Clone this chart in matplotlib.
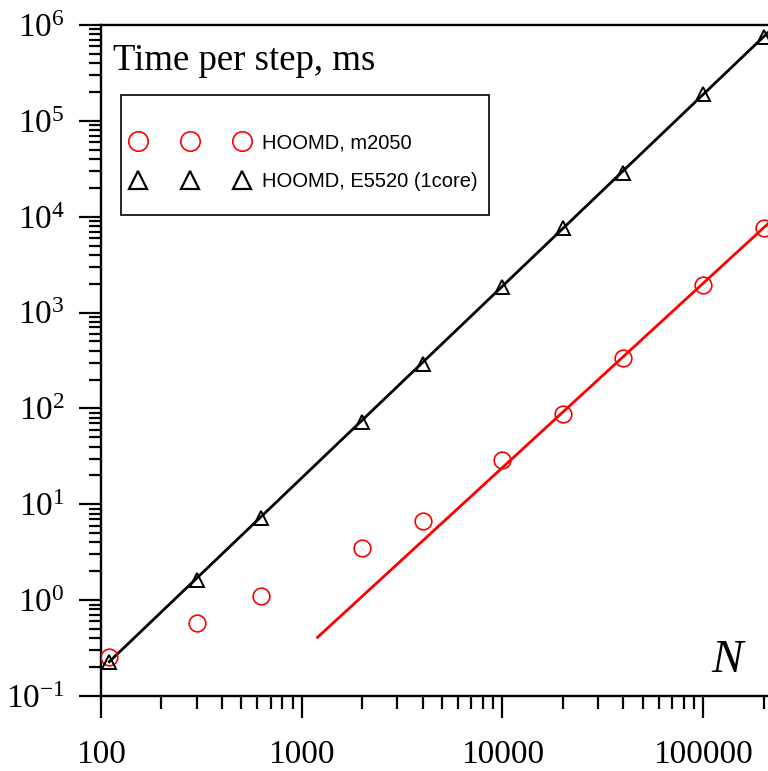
import matplotlib
matplotlib.use("Agg")
import matplotlib.pyplot as plt
import matplotlib.ticker as mticker
from matplotlib.lines import Line2D
from matplotlib.patches import Rectangle

plt.rcParams["font.family"] = ["Liberation Serif", "DejaVu Serif"]
plt.rcParams["mathtext.fontset"] = "custom"
plt.rcParams["mathtext.rm"] = "Liberation Serif"
plt.rcParams["mathtext.it"] = "Liberation Serif:italic"

# ── Data ────────────────────────────────────────────────────────────────────
N_POINTS = [110, 300, 630, 2000, 4000, 10000, 20000, 40000, 100000, 200000]
T_GPU = [0.257, 0.58, 1.11, 3.52, 6.72, 29.1, 87.9, 337, 1945, 7640]
T_CPU = [0.228, 1.63, 7.23, 72.4, 292, 1854, 7640, 28600, 191000, 750000]

# power-law fit lines
FIT_GPU_N = [1200, 210000]
FIT_GPU_T = [0.41, 8400]
FIT_CPU_N = [110, 210000]
FIT_CPU_T = [0.228, 830000]

LABELS = ["HOOMD, m2050", "HOOMD, E5520 (1core)"]
X_TICKS = [100, 1000, 10000, 100000]
X_TICKLABELS = ["100", "1000", "10000", "100000"]
Y_TICKS = [1e-1, 1e0, 1e1, 1e2, 1e3, 1e4, 1e5, 1e6]
Y_TICKLABELS = [r"$10^{-1}$", r"$10^{0}$", r"$10^{1}$", r"$10^{2}$",
                r"$10^{3}$", r"$10^{4}$", r"$10^{5}$", r"$10^{6}$"]

W, H = 768, 771
fig = plt.figure(figsize=(W / 100, H / 100), dpi=100)
ax = fig.add_axes([101 / W, 1 - 696 / H, 1 - 101 / W, 671 / H])

ax.set_xscale("log")
ax.set_yscale("log")

ax.plot(FIT_CPU_N, FIT_CPU_T, color="black", linewidth=2.0, zorder=2)
ax.plot(FIT_GPU_N, FIT_GPU_T, color="red", linewidth=2.0, zorder=2)
ax.plot(N_POINTS, T_GPU, linestyle="none", marker="o", markersize=12,
        markerfacecolor="none", markeredgecolor="red", markeredgewidth=1.2,
        zorder=3)
ax.plot(N_POINTS, T_CPU, linestyle="none", marker="^", markersize=10,
        markerfacecolor="none", markeredgecolor="black", markeredgewidth=1.4,
        zorder=4)

ax.set_xlim(100, 10 ** (2 + 667 / 200.7))
ax.set_ylim(1e-1, 1e6)

ax.xaxis.set_major_locator(mticker.FixedLocator(X_TICKS))
ax.xaxis.set_major_formatter(mticker.FixedFormatter(X_TICKLABELS))
ax.yaxis.set_major_locator(mticker.FixedLocator(Y_TICKS))
ax.yaxis.set_major_formatter(mticker.FixedFormatter(Y_TICKLABELS))
ax.xaxis.set_minor_locator(mticker.LogLocator(base=10, subs=range(2, 10), numticks=20))
ax.yaxis.set_minor_locator(mticker.LogLocator(base=10, subs=range(2, 10), numticks=20))
ax.xaxis.set_minor_formatter(mticker.NullFormatter())
ax.yaxis.set_minor_formatter(mticker.NullFormatter())

ax.tick_params(which="major", direction="out", length=16, width=1.6,
               labelsize=24, color="black")
ax.tick_params(which="minor", direction="out", length=9, width=1.6)
ax.tick_params(axis="x", which="major", pad=15)
ax.tick_params(axis="y", which="major", pad=10)

ax.spines["right"].set_visible(False)
for spine in ("left", "bottom", "top"):
    ax.spines[spine].set_linewidth(1.7)

ax.text(0.018, 0.933, "Time per step, ms", transform=ax.transAxes,
        fontsize=26.5, ha="left", va="baseline")
ax.text(0.9385, 0.036, "N", transform=ax.transAxes, fontsize=34,
        style="italic", ha="center", va="baseline")

# legend: frame drawn separately so the box matches the reference proportions
ax.add_patch(Rectangle((121 / W, 1 - 215 / H), (489 - 121) / W, 120 / H,
                       transform=fig.transFigure, fill=False,
                       edgecolor="black", linewidth=1.2, clip_on=False,
                       zorder=5))

handles = [
    Line2D([], [], linestyle="none", marker="o", markersize=14,
           markerfacecolor="none", markeredgecolor="red", markeredgewidth=1.2),
    Line2D([], [], linestyle="none", marker="^", markersize=13,
           markerfacecolor="none", markeredgecolor="black", markeredgewidth=1.6),
]
leg = ax.legend(
    handles, LABELS,
    loc="center left",
    bbox_to_anchor=(131.5 / W, 1 - 162 / H),
    bbox_transform=fig.transFigure,
    numpoints=3,
    handlelength=5.8,
    handletextpad=0.67,
    labelspacing=0.95,
    borderpad=0,
    borderaxespad=0,
    frameon=False,
    prop={"family": ["Liberation Sans"], "size": 14.5},
)

fig.savefig("out.png", dpi=100, facecolor="white")
